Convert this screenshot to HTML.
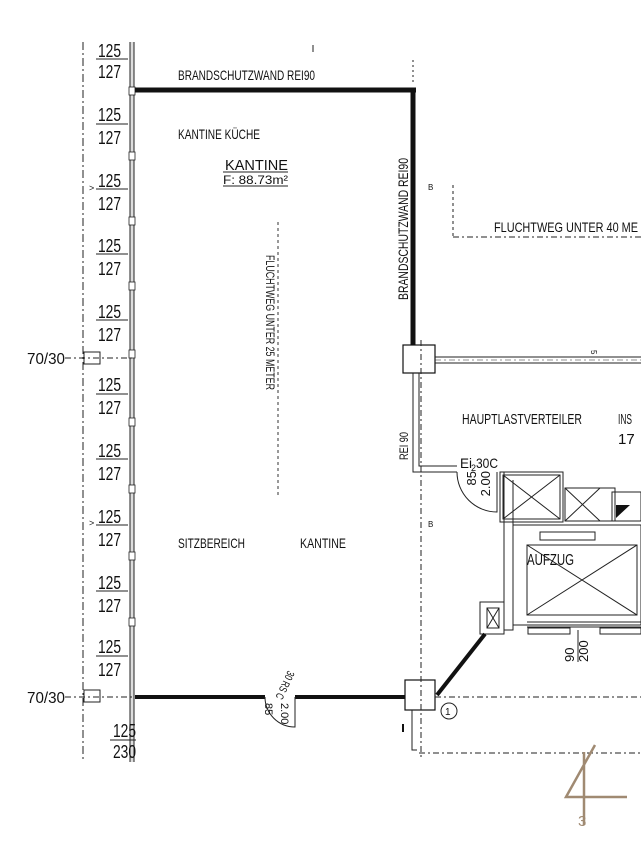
<!DOCTYPE html>
<html><head><meta charset="utf-8"><style>
html,body{margin:0;padding:0;background:#fff;}
svg{display:block;}
text{font-family:"Liberation Sans",sans-serif;fill:#111;}
</style></head><body>
<svg width="641" height="850" viewBox="0 0 641 850" xmlns="http://www.w3.org/2000/svg">
<rect width="641" height="850" fill="#fff"/>
<line x1="83" y1="42" x2="83" y2="762" stroke="#222" stroke-width="1" stroke-dasharray="8,3,2,3"/>
<rect x="130" y="42" width="4" height="720" fill="#ddd"/>
<line x1="130" y1="42" x2="130" y2="762" stroke="#222" stroke-width="1"/>
<line x1="134" y1="42" x2="134" y2="762" stroke="#222" stroke-width="1"/>
<g fill="#fff" stroke="#222" stroke-width="0.8">
<rect x="129" y="87" width="6" height="8"/><rect x="129" y="152" width="6" height="8"/><rect x="129" y="217" width="6" height="8"/><rect x="129" y="282" width="6" height="8"/><rect x="129" y="350" width="6" height="8"/><rect x="129" y="418" width="6" height="8"/><rect x="129" y="485" width="6" height="8"/><rect x="129" y="552" width="6" height="8"/><rect x="129" y="618" width="6" height="8"/>
</g>
<g font-size="18" stroke="#222" stroke-width="1">
<text x="98" y="57" stroke="none" textLength="23" lengthAdjust="spacingAndGlyphs">125</text><line x1="96" y1="59" x2="128" y2="59"/><text x="98" y="78" stroke="none" textLength="23" lengthAdjust="spacingAndGlyphs">127</text>
<text x="98" y="121" stroke="none" textLength="23" lengthAdjust="spacingAndGlyphs">125</text><line x1="96" y1="124" x2="128" y2="124"/><text x="98" y="144" stroke="none" textLength="23" lengthAdjust="spacingAndGlyphs">127</text>
<text x="98" y="187" stroke="none" textLength="23" lengthAdjust="spacingAndGlyphs">125</text><line x1="96" y1="189" x2="128" y2="189"/><text x="98" y="210" stroke="none" textLength="23" lengthAdjust="spacingAndGlyphs">127</text>
<text x="98" y="252" stroke="none" textLength="23" lengthAdjust="spacingAndGlyphs">125</text><line x1="96" y1="254" x2="128" y2="254"/><text x="98" y="275" stroke="none" textLength="23" lengthAdjust="spacingAndGlyphs">127</text>
<text x="98" y="318" stroke="none" textLength="23" lengthAdjust="spacingAndGlyphs">125</text><line x1="96" y1="320" x2="128" y2="320"/><text x="98" y="341" stroke="none" textLength="23" lengthAdjust="spacingAndGlyphs">127</text>
<text x="98" y="391" stroke="none" textLength="23" lengthAdjust="spacingAndGlyphs">125</text><line x1="96" y1="394" x2="128" y2="394"/><text x="98" y="414" stroke="none" textLength="23" lengthAdjust="spacingAndGlyphs">127</text>
<text x="98" y="457" stroke="none" textLength="23" lengthAdjust="spacingAndGlyphs">125</text><line x1="96" y1="459" x2="128" y2="459"/><text x="98" y="480" stroke="none" textLength="23" lengthAdjust="spacingAndGlyphs">127</text>
<text x="98" y="523" stroke="none" textLength="23" lengthAdjust="spacingAndGlyphs">125</text><line x1="96" y1="525" x2="128" y2="525"/><text x="98" y="546" stroke="none" textLength="23" lengthAdjust="spacingAndGlyphs">127</text>
<text x="98" y="589" stroke="none" textLength="23" lengthAdjust="spacingAndGlyphs">125</text><line x1="96" y1="591" x2="128" y2="591"/><text x="98" y="612" stroke="none" textLength="23" lengthAdjust="spacingAndGlyphs">127</text>
<text x="98" y="653" stroke="none" textLength="23" lengthAdjust="spacingAndGlyphs">125</text><line x1="96" y1="656" x2="128" y2="656"/><text x="98" y="676" stroke="none" textLength="23" lengthAdjust="spacingAndGlyphs">127</text>
<text x="113" y="737" stroke="none" textLength="23" lengthAdjust="spacingAndGlyphs">125</text><line x1="110" y1="740" x2="136" y2="740"/><text x="113" y="758" stroke="none" textLength="23" lengthAdjust="spacingAndGlyphs">230</text>
</g>
<g font-size="9"><text x="89" y="191">&gt;</text><text x="89" y="526">&gt;</text></g>
<g font-size="16">
<text x="27" y="364" textLength="38" lengthAdjust="spacingAndGlyphs">70/30</text><text x="27" y="703" textLength="38" lengthAdjust="spacingAndGlyphs">70/30</text>
</g>
<g fill="#fff" stroke="#222" stroke-width="1">
<rect x="84" y="352" width="16" height="12"/><rect x="84" y="690" width="16" height="12"/>
</g>
<line x1="65" y1="358" x2="135" y2="358" stroke="#222" stroke-dasharray="6,3,2,3"/>
<line x1="65" y1="697" x2="135" y2="697" stroke="#222" stroke-dasharray="6,3,2,3"/>
<line x1="135" y1="90" x2="416" y2="90" stroke="#111" stroke-width="5"/>
<line x1="413" y1="88" x2="413" y2="345" stroke="#111" stroke-width="5"/>
<line x1="135" y1="697" x2="265" y2="697" stroke="#111" stroke-width="4"/>
<line x1="295" y1="697" x2="405" y2="697" stroke="#111" stroke-width="4"/>
<path d="M265 697 A30 30 0 0 0 295 727 L295 697" fill="none" stroke="#222" stroke-width="1"/>
<g font-size="11"><text transform="translate(288,670) rotate(115)" lengthAdjust="spacingAndGlyphs" textLength="30">30 RS C</text><text transform="translate(265,703) rotate(90)">85</text><text transform="translate(281,703) rotate(90)">2.00</text></g>
<rect x="403" y="345" width="32" height="28" fill="#fff" stroke="#111" stroke-width="1.2"/>
<rect x="405" y="680" width="30" height="30" fill="#fff" stroke="#111" stroke-width="1.2"/>
<path d="M313 45 L313 52" stroke="#222"/>
<path d="M413 60 L413 82" stroke="#222" stroke-dasharray="2,3"/>
<path d="M453 237 L641 237" stroke="#222" stroke-dasharray="6,3,2,3"/>
<path d="M453 185 L453 237" stroke="#222" stroke-dasharray="3,3"/>
<text x="494" y="232" font-size="14" textLength="144" lengthAdjust="spacingAndGlyphs">FLUCHTWEG UNTER 40 ME</text>
<line x1="435" y1="357" x2="641" y2="357" stroke="#222"/>
<line x1="435" y1="363" x2="641" y2="363" stroke="#222"/>
<line x1="435" y1="360" x2="641" y2="360" stroke="#222" stroke-width="0.6" stroke-dasharray="6,3,2,3"/>
<line x1="421" y1="340" x2="421" y2="760" stroke="#222" stroke-dasharray="6,3,2,3"/>
<path d="M413 373 L413 472 L457 472" fill="none" stroke="#222"/>
<path d="M419 373 L419 466 L457 466" fill="none" stroke="#222"/>
<path d="M457 472 A40 40 0 0 0 497 512 L497 472" fill="none" stroke="#222"/>
<g font-size="14">
<text x="460" y="468" lengthAdjust="spacingAndGlyphs" textLength="12">Ei</text><text x="471" y="471" font-size="9">2</text><text x="476" y="468" lengthAdjust="spacingAndGlyphs" textLength="22">30C</text>
<text transform="translate(476,471) rotate(-90)" text-anchor="end" font-size="13">85</text>
<text transform="translate(490,471) rotate(-90)" text-anchor="end" font-size="13">2.00</text>
</g>
<text transform="translate(408,460) rotate(-90)" font-size="12" textLength="28" lengthAdjust="spacingAndGlyphs">REI 90</text>
<path d="M500 472 L563 472 L563 522 L500 522 Z M503 475 L560 475 L560 519 L503 519 Z" fill="none" stroke="#222"/>
<path d="M503 475 L560 519 M560 475 L503 519" stroke="#222"/>
<path d="M504 472 L504 630 L513 630 L513 480" fill="none" stroke="#222"/>
<rect x="565" y="488" width="50" height="33" fill="none" stroke="#222"/>
<path d="M565 488 L600 521 M600 488 L565 521" stroke="#222"/>
<rect x="612" y="492" width="29" height="29" fill="none" stroke="#222"/>
<path d="M616 505 L630 505 L616 518 Z" fill="#111"/>
<rect x="513" y="525" width="128" height="100" fill="none" stroke="#222"/>
<rect x="540" y="532" width="55" height="8" fill="none" stroke="#222"/>
<rect x="527" y="545" width="110" height="70" fill="none" stroke="#222"/>
<path d="M527 545 L637 615 M637 545 L527 615" stroke="#222"/>
<text x="527" y="565" font-size="16" textLength="47" lengthAdjust="spacingAndGlyphs">AUFZUG</text>
<path d="M527 622 L641 622 M527 627 L641 627" stroke="#222"/>
<rect x="528" y="628" width="42" height="6" fill="none" stroke="#222"/>
<rect x="600" y="628" width="41" height="6" fill="none" stroke="#222"/>
<line x1="578" y1="630" x2="578" y2="662" stroke="#222"/>
<g font-size="13"><text transform="translate(574,662) rotate(-90)">90</text><text transform="translate(588,662) rotate(-90)">200</text></g>
<rect x="480" y="602" width="24" height="32" fill="none" stroke="#222"/>
<rect x="487" y="608" width="12" height="20" fill="none" stroke="#222"/>
<path d="M487 608 L499 628 M499 608 L487 628" stroke="#222"/>
<line x1="437" y1="695" x2="485" y2="634" stroke="#111" stroke-width="4"/>
<line x1="435" y1="697" x2="641" y2="697" stroke="#222" stroke-dasharray="6,3,2,3"/>
<circle cx="449" cy="711" r="8" fill="none" stroke="#222"/>
<text x="445" y="715" font-size="10">1</text>
<path d="M412 710 L412 750 L417 750" fill="none" stroke="#222"/>
<line x1="419" y1="753" x2="641" y2="753" stroke="#222" stroke-dasharray="6,3,2,3"/>
<line x1="403" y1="724" x2="403" y2="732" stroke="#111" stroke-width="2"/>
<text x="462" y="424" font-size="15" textLength="120" lengthAdjust="spacingAndGlyphs">HAUPTLASTVERTEILER</text>
<text x="618" y="424" font-size="15" textLength="14" lengthAdjust="spacingAndGlyphs">INS</text><text x="618" y="444" font-size="15">17</text>
<text transform="translate(591,350) rotate(90)" font-size="8">5</text>
<text x="428" y="190" font-size="8">B</text><text x="428" y="527" font-size="8">B</text>
<text x="178" y="80" font-size="14" textLength="137" lengthAdjust="spacingAndGlyphs">BRANDSCHUTZWAND REI90</text>
<text transform="translate(408,300) rotate(-90)" font-size="14" textLength="142" lengthAdjust="spacingAndGlyphs">BRANDSCHUTZWAND REI90</text>
<text x="178" y="139" font-size="14" textLength="82" lengthAdjust="spacingAndGlyphs">KANTINE KÜCHE</text>
<text x="225" y="170" font-size="15" textLength="63" lengthAdjust="spacingAndGlyphs">KANTINE</text>
<line x1="223" y1="172" x2="288" y2="172" stroke="#222"/>
<text x="223" y="184" font-size="12" textLength="65" lengthAdjust="spacingAndGlyphs">F: 88.73m²</text>
<line x1="223" y1="186" x2="288" y2="186" stroke="#222"/>
<line x1="278" y1="222" x2="278" y2="495" stroke="#333" stroke-dasharray="3,3"/>
<text transform="translate(266,255) rotate(90)" font-size="12" textLength="135" lengthAdjust="spacingAndGlyphs">FLUCHTWEG UNTER 25 METER</text>
<text x="178" y="548" font-size="14" textLength="67" lengthAdjust="spacingAndGlyphs">SITZBEREICH</text>
<text x="300" y="548" font-size="14" textLength="46" lengthAdjust="spacingAndGlyphs">KANTINE</text>
<path d="M595 745 L566 797 L627 797 M584 752 L584 825" fill="none" stroke="#a08a72" stroke-width="2.5"/>
<text x="578" y="826" font-size="15" style="fill:#a08a72">3</text>
</svg>
</body></html>
